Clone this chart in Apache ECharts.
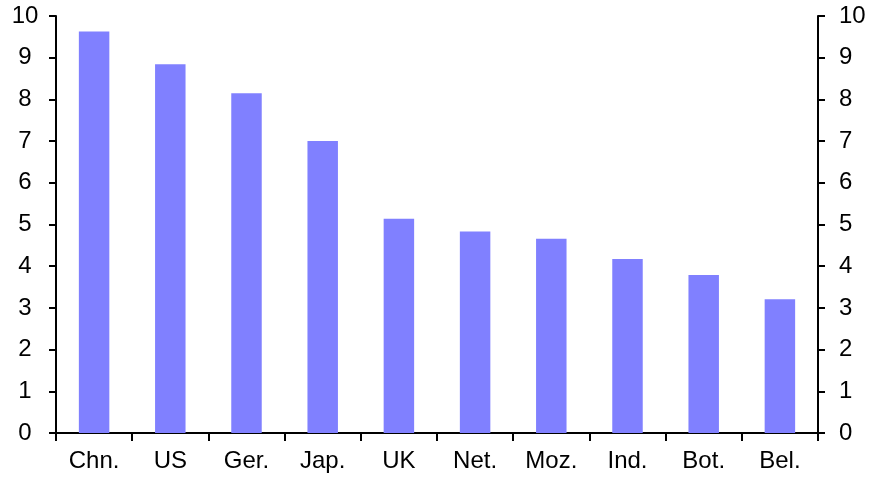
<!DOCTYPE html>
<html><head><meta charset="utf-8">
<script src="https://cdn.jsdelivr.net/npm/echarts@6/dist/echarts.min.js"></script>
<style>html,body{margin:0;padding:0;background:#fff}#c{width:876px;height:484px}</style>
</head><body><div id="c"></div>
<script>
const categories = ['Chn.','US','Ger.','Jap.','UK','Net.','Moz.','Ind.','Bot.','Bel.'];
const values = [9.63, 8.84, 8.15, 7.0, 5.14, 4.83, 4.66, 4.17, 3.79, 3.21];
const yTicks = [0,1,2,3,4,5,6,7,8,9,10];

const chart = echarts.init(document.getElementById('c'));
const font = {fontFamily:'Liberation Sans, Arial', fontSize:24, color:'#000'};
function yAxis(pos, labelOpts){
  return {
    type:'value', min:0, max:10, interval:1, position:pos,
    axisLine:{show:true, lineStyle:{color:'#000', width:2}},
    axisTick:{show:true, length:7, lineStyle:{color:'#000', width:2}},
    splitLine:{show:false},
    axisLabel:Object.assign({formatter:v=>yTicks.includes(v)?String(v):''}, font, labelOpts)
  };
}
chart.setOption({
  animation:false,
  grid:{left:56, right:58, top:16, bottom:51},
  xAxis:{
    type:'category', data:categories,
    axisLine:{lineStyle:{color:'#000', width:2}},
    axisTick:{show:true, length:8, alignWithLabel:false, lineStyle:{color:'#000', width:2}},
    axisLabel:Object.assign({margin:16}, font)
  },
  yAxis:[
    yAxis('left', {margin:31, align:'center'}),
    yAxis('right', {margin:21, align:'left'})
  ],
  series:[{
    type:'bar', data:values, barWidth:'40%',
    itemStyle:{color:'#8080FF'}
  }]
});
</script></body></html>
